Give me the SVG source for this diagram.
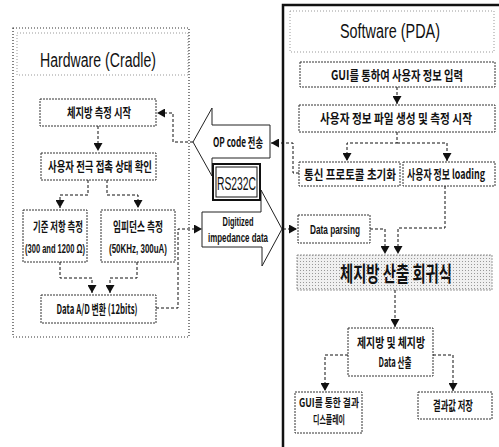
<svg xmlns="http://www.w3.org/2000/svg" width="499" height="447" viewBox="0 0 499 447">
<style>
.box{fill:#fff;stroke:#333;stroke-width:1;stroke-dasharray:2 1}
.ln{fill:none;stroke:#111;stroke-width:1;stroke-dasharray:3 2}
.t{font-family:"Noto Sans CJK KR","Liberation Sans",sans-serif;font-size:13px;font-weight:bold;fill:#111;text-anchor:middle}
.tl{font-family:"Liberation Sans","Noto Sans CJK KR",sans-serif;font-size:13px;font-weight:bold;fill:#111;text-anchor:middle}
.title{font-family:"Liberation Sans",sans-serif;font-size:20px;fill:#111;text-anchor:middle}
.faint{fill:none;stroke:#999;stroke-width:1;stroke-dasharray:1 2}
</style>
<defs>
<marker id="ah" markerUnits="userSpaceOnUse" markerWidth="8" markerHeight="9" refX="8" refY="4.5" orient="auto">
<path d="M0,0 L8,4.5 L0,9 z" fill="#111"/>
</marker>
<pattern id="dots" width="3" height="3" patternUnits="userSpaceOnUse">
<rect width="3" height="3" fill="#f0f0f0"/>
<rect width="1" height="1" fill="#999"/>
</pattern>
</defs>

<!-- Hardware container -->
<g id="hardware">
<rect x="13" y="28" width="176" height="309" fill="none" stroke="#333" stroke-width="1.2" stroke-dasharray="1 2"/>
<rect x="17" y="33" width="171" height="42" class="faint"/>
<text x="98" y="67" class="title" textLength="116" lengthAdjust="spacingAndGlyphs">Hardware (Cradle)</text>
</g>

<!-- Software container -->
<g id="software">
<path d="M283,447 L283,5 L499,5" fill="none" stroke="#111" stroke-width="2.5"/>
<rect x="290" y="11" width="204" height="41" class="faint"/>
<text x="390" y="38" class="title" textLength="100" lengthAdjust="spacingAndGlyphs">Software (PDA)</text>
</g>

<g id="hw1"><rect class="box" x="40" y="99" width="116" height="27"/><text class="t" transform="translate(99,117) scale(0.7,1)" textLength="91.4" lengthAdjust="spacingAndGlyphs">체지방 측정 시작</text></g>
<g id="hw2"><rect class="box" x="41" y="153" width="115" height="27"/><text class="t" transform="translate(100,171) scale(0.7,1)" textLength="148.6" lengthAdjust="spacingAndGlyphs">사용자 전극 접촉 상태 확인</text></g>
<g id="hw3"><rect class="box" x="23" y="210" width="64" height="52"/><text class="t" transform="translate(58,231) scale(0.7,1)" textLength="71.4" lengthAdjust="spacingAndGlyphs">기준 저항 측정</text><text class="tl" transform="translate(55,253) scale(0.7,1)" textLength="85.7" lengthAdjust="spacingAndGlyphs">(300 and 1200 Ω)</text></g>
<g id="hw4"><rect class="box" x="101" y="210" width="74" height="52"/><text class="t" transform="translate(138,231) scale(0.7,1)" textLength="71.4" lengthAdjust="spacingAndGlyphs">임피던스 측정</text><text class="tl" transform="translate(138,253) scale(0.7,1)" textLength="82.9" lengthAdjust="spacingAndGlyphs">(50KHz, 300uA)</text></g>
<g id="hw5"><rect class="box" x="41" y="295" width="115" height="28"/><text class="t" transform="translate(97,314) scale(0.7,1)" textLength="115.7" lengthAdjust="spacingAndGlyphs">Data A/D 변환 (12bits)</text></g>

<!-- big arrows -->
<g id="opcode">
<path d="M193,142 L212,108 L212,125 L270,125 L270,158 L212,158 L212,176 Z" fill="#fff" stroke="#222" stroke-width="1"/>
<text class="t" transform="translate(238,147) scale(0.7,1)" textLength="71.4" lengthAdjust="spacingAndGlyphs">OP code 전송</text>
</g>
<g id="digitized">
<path d="M202,212 L261,212 L261,190 L282,229 L262,266 L262,247 L202,247 Z" fill="#fff" stroke="#222" stroke-width="1"/>
<text class="tl" transform="translate(238,226) scale(0.7,1)" textLength="44.3" lengthAdjust="spacingAndGlyphs">Digitized</text>
<text class="tl" transform="translate(238,242) scale(0.7,1)" textLength="85.7" lengthAdjust="spacingAndGlyphs">impedance data</text>
</g>
<g id="rs232c">
<rect x="213" y="164" width="47" height="36" fill="#fff" stroke="#111" stroke-width="2"/>
<rect x="216" y="167" width="41" height="30" fill="none" stroke="#111" stroke-width="1"/>
<text transform="translate(236.5,190) scale(0.7,1)" style="font-family:'Liberation Sans',sans-serif;font-size:18px;fill:#111;text-anchor:middle" textLength="55.7" lengthAdjust="spacingAndGlyphs">RS232C</text>
</g>

<g id="sw1"><rect class="box" x="300" y="62" width="195" height="25"/><text class="t" transform="translate(397,80) scale(0.7,1)" textLength="188.6" lengthAdjust="spacingAndGlyphs">GUI를 통하여 사용자 정보 입력</text></g>
<g id="sw2"><rect class="box" x="299" y="105" width="196" height="27"/><text class="t" transform="translate(396,123) scale(0.7,1)" textLength="217.1" lengthAdjust="spacingAndGlyphs">사용자 정보 파일 생성 및 측정 시작</text></g>
<g id="sw3"><rect class="box" x="299" y="162" width="101" height="24"/><text class="t" transform="translate(350,179) scale(0.7,1)" textLength="131.4" lengthAdjust="spacingAndGlyphs">통신 프로토콜 초기화</text></g>
<g id="sw4"><rect class="box" x="403" y="162" width="92" height="24"/><text class="t" transform="translate(446,179) scale(0.7,1)" textLength="111.4" lengthAdjust="spacingAndGlyphs">사용자 정보 loading</text></g>
<g id="sw5"><rect class="box" x="298" y="215" width="72" height="28"/><text class="tl" transform="translate(335,234) scale(0.7,1)" textLength="71.4" lengthAdjust="spacingAndGlyphs">Data parsing</text></g>
<g id="sw6"><rect x="297" y="255" width="195" height="35" fill="url(#dots)" stroke="#999" stroke-width="1" stroke-dasharray="2 1"/><text class="t" transform="translate(396,281) scale(0.7,1)" textLength="160" lengthAdjust="spacingAndGlyphs" style="font-size:21px">체지방 산출 회귀식</text></g>
<g id="sw7"><rect class="box" x="348" y="328" width="85" height="48"/><text class="t" transform="translate(391,347) scale(0.7,1)" textLength="97.1" lengthAdjust="spacingAndGlyphs">제지방 및 체지방</text><text class="t" transform="translate(395,367) scale(0.7,1)" textLength="47.1" lengthAdjust="spacingAndGlyphs">Data 산출</text></g>
<g id="sw8"><rect class="box" x="295" y="392" width="67" height="41"/><text class="t" transform="translate(329,407) scale(0.7,1)" textLength="85.7" lengthAdjust="spacingAndGlyphs" style="font-size:11px">GUI를 통한 결과</text><text class="t" transform="translate(329,424) scale(0.7,1)" textLength="45.7" lengthAdjust="spacingAndGlyphs" style="font-size:11px">디스플레이</text></g>
<g id="sw9"><rect class="box" x="418" y="392" width="74" height="27"/><text class="t" transform="translate(453,410) scale(0.7,1)" textLength="57.1" lengthAdjust="spacingAndGlyphs">결과값 저장</text></g>

<g id="connectors">
<path class="ln" d="M98,126 L98,151" marker-end="url(#ah)"/>
<path class="ln" d="M88,180 L88,195 L60,195 L60,208" marker-end="url(#ah)"/>
<path class="ln" d="M107,180 L107,195 L138,195 L138,208" marker-end="url(#ah)"/>
<path class="ln" d="M60,262 L60,278 L92,278 L92,293" marker-end="url(#ah)"/>
<path class="ln" d="M137,262 L137,278 L110,278 L110,293" marker-end="url(#ah)"/>
<path class="ln" d="M156,308 L178,308 L178,229 L202,229" marker-end="url(#ah)"/>
<path class="ln" d="M193,142 L173,142 L173,113 L157,113" marker-end="url(#ah)"/>
<path class="ln" d="M397,87 L397,104" marker-end="url(#ah)"/>
<path class="ln" d="M397,132 L397,143 L347,143 L347,161" marker-end="url(#ah)"/>
<path class="ln" d="M397,143 L447,143 L447,161" marker-end="url(#ah)"/>
<path class="ln" d="M299,173 L293,173 L293,143 L271,143" marker-end="url(#ah)"/>
<path class="ln" d="M283,229 L297,229" marker-end="url(#ah)"/>
<path class="ln" d="M445,186 L445,228 L398,228 L398,254" marker-end="url(#ah)"/>
<path class="ln" d="M370,229 L385,229 L385,254" marker-end="url(#ah)"/>
<path class="ln" d="M395,290 L395,327" marker-end="url(#ah)"/>
<path class="ln" d="M348,355 L325,355 L325,391" marker-end="url(#ah)"/>
<path class="ln" d="M433,355 L453,355 L453,391" marker-end="url(#ah)"/>
</g>
</svg>
